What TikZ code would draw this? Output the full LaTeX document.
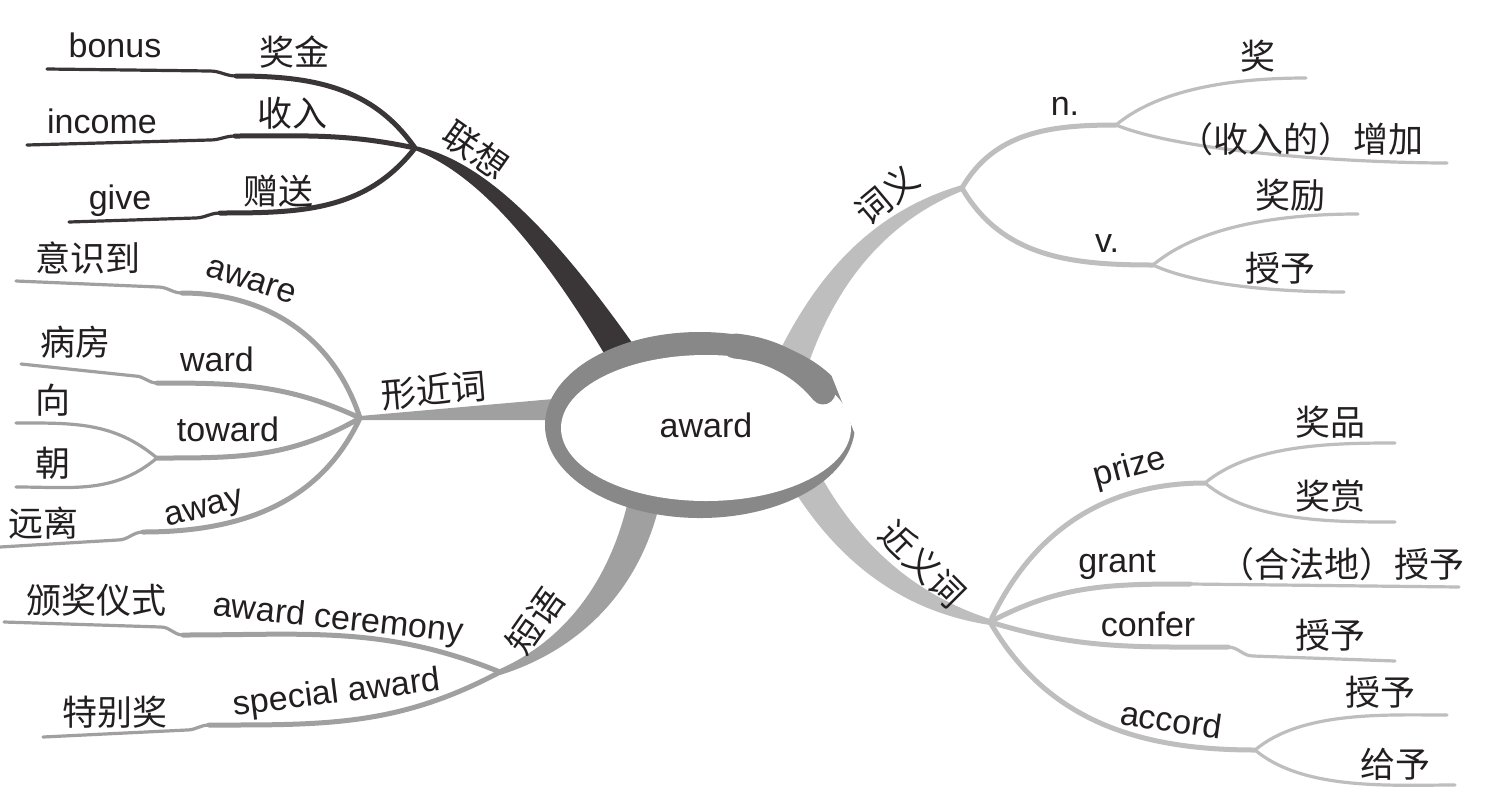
\documentclass[tikz,border=0pt]{standalone}
\usepackage{fontspec}
\setmainfont{Liberation Sans}
\newfontfamily\cjk{Noto Sans CJK SC}
\usetikzlibrary{shapes.geometric}
\definecolor{ink}{RGB}{35,31,32}
\definecolor{dark}{RGB}{58,54,55}
\definecolor{mid}{RGB}{160,160,160}
\definecolor{light}{RGB}{190,190,190}
\definecolor{ringgrey}{RGB}{136,136,136}

\begin{document}
\begin{tikzpicture}[
    x=1pt, y=-1pt,
    en/.style={font=\fontsize{34}{40}\selectfont, text=ink, inner sep=0pt,
        text height=25pt, text depth=7pt},
    zh/.style={font=\cjk\fontsize{35}{40}\selectfont, text=ink, inner sep=0pt,
        text height=27pt, text depth=0pt},
    stem/.style={line width=5pt, line cap=round},
    twig/.style={line width=3.2pt, line cap=round}
]
    \fill[white] (0,0) rectangle (1488,801);
    \useasboundingbox (0,0) rectangle (1488,801);

    % hubs and roots
    \coordinate (ringc) at (700,425);
    \coordinate (lx) at (415,148);
    \coordinate (lxroot) at (627,362);
    \coordinate (cy) at (962,188);
    \coordinate (cyroot) at (792,362);
    \coordinate (xj) at (360,418);
    \coordinate (xjroot) at (565,409);
    \coordinate (dy) at (500,672);
    \coordinate (dyroot) at (645,497);
    \coordinate (jy) at (990,622);
    \coordinate (jyroot) at (808,485);

    % trunks
    \fill[dark] ([yshift=2pt]lx) .. controls (480,160) and (548,222) .. ([shift={(13,-8)}]lxroot)
        -- ([shift={(-13,8)}]lxroot) .. controls (535,235) and (472,172) .. ([yshift=-2pt]lx) -- cycle;
    \fill[light] ([shift={(-15,-6)}]cyroot) .. controls (810,290) and (860,215) .. ([yshift=3pt]cy)
        -- ([yshift=-3pt]cy) .. controls (885,222) and (835,285) .. ([shift={(15,6)}]cyroot) -- cycle;
    \fill[mid] ([yshift=2pt]xj) -- ([yshift=11pt]xjroot) -- ([yshift=-11pt]xjroot)
        -- ([yshift=-2pt]xj) -- cycle;
    \fill[mid] ([shift={(-15,-5)}]dyroot) .. controls (612,580) and (565,640) .. ([yshift=3pt]dy)
        -- ([yshift=-3pt]dy) .. controls (580,650) and (640,590) .. ([shift={(15,5)}]dyroot) -- cycle;
    \fill[light] ([shift={(14,-7)}]jyroot) .. controls (860,545) and (915,595) .. ([yshift=3pt]jy)
        -- ([yshift=-3pt]jy) .. controls (905,612) and (842,565) .. ([shift={(-13,7)}]jyroot) -- cycle;

    % 联想
    \coordinate (bonusK) at (236,76);
    \coordinate (bonusE) at (47,69);
    \coordinate (incomeK) at (235,136);
    \coordinate (incomeE) at (27,145);
    \coordinate (giveK) at (220,213);
    \coordinate (giveE) at (69,222);
    \draw[stem, dark] (lx) to[out=125, in=0] (bonusK);
    \draw[twig, dark] (bonusK) to[out=180, in=0] ++(-26,-5) -- (bonusE);
    \draw[stem, dark] (lx) to[out=168, in=0] (incomeK);
    \draw[twig, dark] (incomeK) to[out=180, in=0] ++(-25,4) -- (incomeE);
    \draw[stem, dark] (lx) to[out=-128, in=0] (giveK);
    \draw[twig, dark] (giveK) to[out=180, in=0] ++(-25,5) -- (giveE);

    % 词义
    \coordinate (nj) at (1116,125);
    \coordinate (vj) at (1153,265);
    \coordinate (jiangE) at (1306,78);
    \coordinate (zengjiaE) at (1447,163);
    \coordinate (jiangliE) at (1358,214);
    \coordinate (shouyuE) at (1344,292);
    \draw[stem, light] (cy) to[out=60, in=180] (nj);
    \draw[stem, light] (cy) to[out=-60, in=180] (vj);
    \draw[twig, light] (nj) to[out=40, in=180, looseness=0.8] (jiangE);
    \draw[twig, light] (nj) to[out=-22, in=180, looseness=0.6] (zengjiaE);
    \draw[twig, light] (vj) to[out=40, in=180, looseness=0.8] (jiangliE);
    \draw[twig, light] (vj) to[out=-25, in=180, looseness=0.7] (shouyuE);

    % 形近词
    \coordinate (awareK) at (182,293);
    \coordinate (awareE) at (16,281);
    \coordinate (wardK) at (157,383);
    \coordinate (wardE) at (21,364);
    \coordinate (tj) at (157,458);
    \coordinate (xiangE) at (16,423);
    \coordinate (chaoE) at (16,487);
    \coordinate (awayK) at (143,532);
    \coordinate (awayE) at (0,547);
    \draw[stem, mid] (xj) to[out=108, in=0] (awareK);
    \draw[twig, mid] (awareK) to[out=180, in=0] ++(-24,-6) -- (awareE);
    \draw[stem, mid] (xj) to[out=155, in=0] (wardK);
    \draw[twig, mid] (wardK) to[out=180, in=0] ++(-22,-7) -- (wardE);
    \draw[stem, mid] (xj) to[out=-150, in=0] (tj);
    \draw[twig, mid] (tj) to[out=140, in=0] (xiangE);
    \draw[twig, mid] (tj) to[out=-140, in=0] (chaoE);
    \draw[stem, mid] (xj) to[out=-115, in=0] (awayK);
    \draw[twig, mid] (awayK) to[out=180, in=0] ++(-25,8) -- (awayE);

    % 短语
    \coordinate (ceremonyK) at (183,635);
    \coordinate (ceremonyE) at (4,622);
    \coordinate (specialK) at (209,725);
    \coordinate (specialE) at (43,737);
    \draw[stem, mid] (dy) to[out=158, in=0] (ceremonyK);
    \draw[twig, mid] (ceremonyK) to[out=180, in=0] ++(-22,-8) -- (ceremonyE);
    \draw[stem, mid] (dy) to[out=-152, in=0] (specialK);
    \draw[twig, mid] (specialK) to[out=180, in=0] ++(-22,5) -- (specialE);

    % 近义词
    \coordinate (pj) at (1205,483);
    \coordinate (prizeAE) at (1395,443);
    \coordinate (prizeBE) at (1395,522);
    \coordinate (grantK) at (1190,584);
    \coordinate (grantE) at (1459,587);
    \coordinate (conferK) at (1228,647);
    \coordinate (conferE) at (1395,661);
    \coordinate (aj) at (1255,750);
    \coordinate (accordAE) at (1447,715);
    \coordinate (accordBE) at (1455,785);
    \draw[stem, light] (jy) to[out=65, in=180] (pj);
    \draw[twig, light] (pj) to[out=40, in=180, looseness=0.8] (prizeAE);
    \draw[twig, light] (pj) to[out=-40, in=180, looseness=0.8] (prizeBE);
    \draw[stem, light] (jy) to[out=28, in=180] (grantK);
    \draw[twig, light] (grantK) -- (grantE);
    \draw[stem, light] (jy) to[out=-17, in=180] (conferK);
    \draw[twig, light] (conferK) to[out=0, in=180] ++(25,9) -- (conferE);
    \draw[stem, light] (jy) to[out=-60, in=180] (aj);
    \draw[twig, light] (aj) to[out=40, in=180, looseness=0.8] (accordAE);
    \draw[twig, light] (aj) to[out=-40, in=180, looseness=0.8] (accordBE);

    % centre
    \fill[ringgrey] ([shift={(-32:155 and 93)}]ringc)
        arc[start angle=-32, end angle=-355, x radius=155, y radius=93] -- cycle;
    \node[en, ellipse, fill=white, minimum width=290pt, minimum height=146pt] (core) at (706,428) {award};
    \coordinate (hookA) at (735,346);
    \coordinate (hookB) at (823,392);
    \draw[ringgrey, line width=25pt, line cap=round] (hookA) .. controls (775,350) and (803,368) .. (hookB);

    % labels
    \node[en] (bonus) at (115,48) {bonus};
    \node[zh] (bonus-zh) at (294,52) {奖金};
    \node[en] (income) at (102,124) {income};
    \node[zh] (income-zh) at (292,113) {收入};
    \node[en] (give) at (120,200) {give};
    \node[zh] (give-zh) at (278,191) {赠送};
    \node[zh, rotate=-35] (lianxiang) at (476,150) {联想};

    \node[zh, rotate=40] (ciyi) at (887,195) {词义};
    \node[en] (n) at (1065,106) {n.};
    \node[zh] (n-a) at (1258,56) {奖};
    \node[zh] (n-b) at (1301,139) {（收入的）增加};
    \node[en] (v) at (1107,243) {v.};
    \node[zh] (v-a) at (1290,195) {奖励};
    \node[zh] (v-b) at (1280,268) {授予};

    \node[zh, rotate=5] (xingjin) at (434,390) {形近词};
    \node[en, rotate=-18] (aware) at (251,281) {aware};
    \node[zh] (aware-zh) at (88,258) {意识到};
    \node[en] (ward) at (217,362) {ward};
    \node[zh] (ward-zh) at (75,342) {病房};
    \node[en] (toward) at (228,432) {toward};
    \node[zh] (toward-a) at (53,400) {向};
    \node[zh] (toward-b) at (53,463) {朝};
    \node[en, rotate=15] (away) at (204,508) {away};
    \node[zh] (away-zh) at (44,523) {远离};

    \node[zh, rotate=55] (duanyu) at (535,621) {短语};
    \node[en, rotate=-6] (ceremony) at (338,620) {award ceremony};
    \node[zh] (ceremony-zh) at (97,600) {颁奖仪式};
    \node[en, rotate=7] (special) at (337,694) {special award};
    \node[zh] (special-zh) at (115,712) {特别奖};

    \node[zh, rotate=-45] (jinyi) at (923,564) {近义词};
    \node[en, rotate=15] (prize) at (1130,468) {prize};
    \node[zh] (prize-a) at (1330,422) {奖品};
    \node[zh] (prize-b) at (1330,496) {奖赏};
    \node[en] (grant) at (1117,563) {grant};
    \node[zh] (grant-zh) at (1342,564) {（合法地）授予};
    \node[en] (confer) at (1148,627) {confer};
    \node[zh] (confer-zh) at (1330,635) {授予};
    \node[en, rotate=-8] (accord) at (1171,723) {accord};
    \node[zh] (accord-a) at (1380,692) {授予};
    \node[zh] (accord-b) at (1395,764) {给予};
\end{tikzpicture}
\end{document}
